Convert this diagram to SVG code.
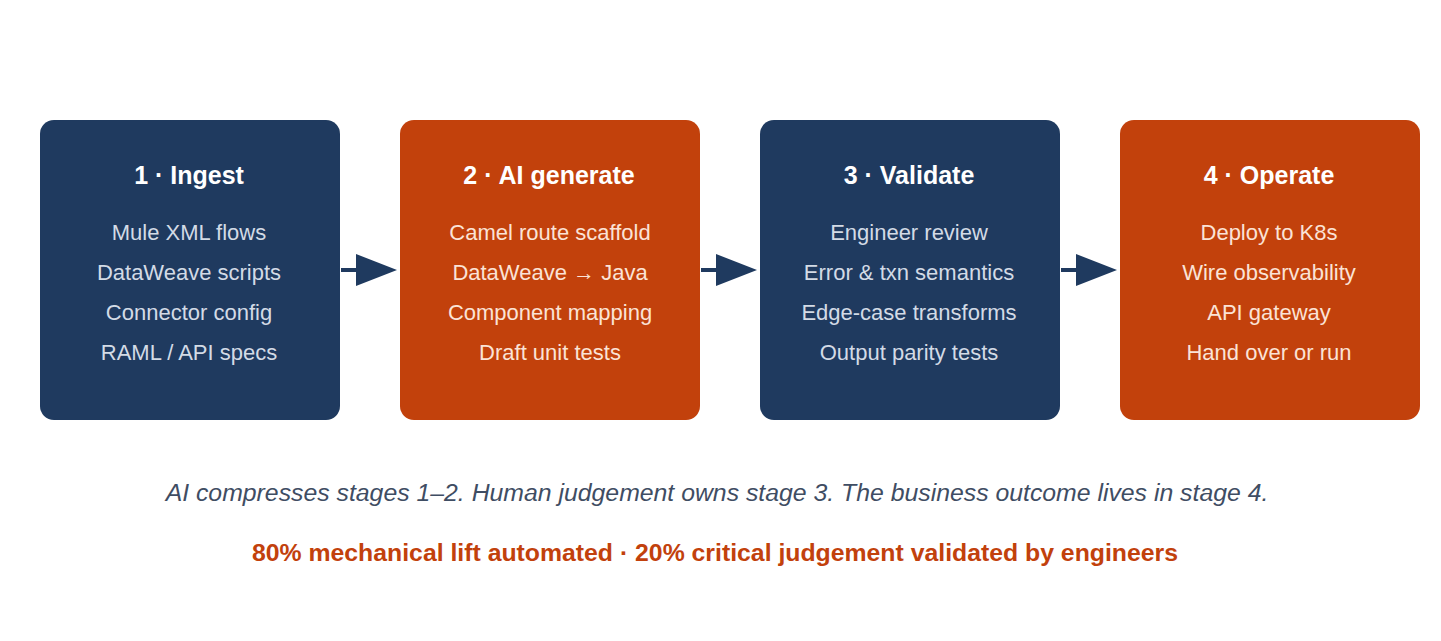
<svg xmlns="http://www.w3.org/2000/svg" width="1441" height="641" viewBox="0 0 1441 641">
<style>
.t{font-family:"Liberation Sans",Arial,sans-serif;font-weight:bold;font-size:25px;fill:#fff;text-anchor:middle}
.i{font-family:"Liberation Sans",Arial,sans-serif;font-size:22px;text-anchor:middle}
.n .i{fill:#d3dbe6}.o .i{fill:#fbe3d6}
.n rect{fill:#1f3a5f}.o rect{fill:#c2410c}
.c{stroke:#1f3a5f;stroke-width:4;fill:none}
</style>
<rect width="1441" height="641" fill="#fff"/>
<g id="n1" class="n"><rect x="40" y="120" width="300" height="300" rx="14"/>
<text class="t" x="189" y="184">1 · Ingest</text>
<text class="i" x="189" y="240">Mule XML flows</text><text class="i" x="189" y="280">DataWeave scripts</text><text class="i" x="189" y="320">Connector config</text><text class="i" x="189" y="360">RAML / API specs</text></g>
<g id="n2" class="o"><rect x="400" y="120" width="300" height="300" rx="14"/>
<text class="t" x="549" y="184">2 · AI generate</text>
<text class="i" x="550" y="240">Camel route scaffold</text><text class="i" x="550" y="280">DataWeave → Java</text><text class="i" x="550" y="320">Component mapping</text><text class="i" x="550" y="360">Draft unit tests</text></g>
<g id="n3" class="n"><rect x="760" y="120" width="300" height="300" rx="14"/>
<text class="t" x="909" y="184">3 · Validate</text>
<text class="i" x="909" y="240">Engineer review</text><text class="i" x="909" y="280">Error &amp; txn semantics</text><text class="i" x="909" y="320">Edge-case transforms</text><text class="i" x="909" y="360">Output parity tests</text></g>
<g id="n4" class="o"><rect x="1120" y="120" width="300" height="300" rx="14"/>
<text class="t" x="1269" y="184">4 · Operate</text>
<text class="i" x="1269" y="240">Deploy to K8s</text><text class="i" x="1269" y="280">Wire observability</text><text class="i" x="1269" y="320">API gateway</text><text class="i" x="1269" y="360">Hand over or run</text></g>
<g id="connectors">
<path class="c" d="M341,270H357"/><path d="M356,254L397,270L356,286z" fill="#1f3a5f"/>
<path class="c" d="M701,270H717"/><path d="M716,254L757,270L716,286z" fill="#1f3a5f"/>
<path class="c" d="M1061,270H1077"/><path d="M1076,254L1117,270L1076,286z" fill="#1f3a5f"/>
</g>
<text x="717" y="501" font-family="Liberation Sans,Arial,sans-serif" font-style="italic" font-size="24.8" fill="#3f4d63" text-anchor="middle">AI compresses stages 1–2. Human judgement owns stage 3. The business outcome lives in stage 4.</text>
<text x="715" y="561" font-family="Liberation Sans,Arial,sans-serif" font-weight="bold" font-size="24.8" fill="#c2410c" text-anchor="middle">80% mechanical lift automated · 20% critical judgement validated by engineers</text>
</svg>
